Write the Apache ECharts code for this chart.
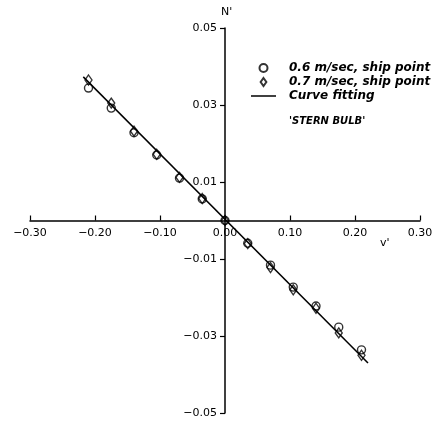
<!DOCTYPE html>
<html><head><meta charset="utf-8">
<script src="https://cdn.jsdelivr.net/npm/echarts@6/dist/echarts.min.js"></script>
<style>html,body{margin:0;padding:0;background:#fff}#c{width:432px;height:423px}</style>
</head><body><div id="c"></div>
<script>
const vValues = [-0.21,-0.175,-0.14,-0.105,-0.07,-0.035,0,0.035,0.07,0.105,0.14,0.175,0.21];
const n06 = [0.0344,0.0292,0.0228,0.0170,0.0110,0.0056,0,-0.0059,-0.0116,-0.0173,-0.0222,-0.0277,-0.0336];
const n07 = [0.0365,0.0305,0.0232,0.0172,0.0112,0.0057,0,-0.0060,-0.0122,-0.0180,-0.0228,-0.0292,-0.0350];
const fitV = [-0.218, 0.22];
const fitN = [0.0373, -0.0370];
const xTicks = [-0.3,-0.2,-0.1,0,0.1,0.2,0.3];
const yTicks = [-0.05,-0.03,-0.01,0.01,0.03,0.05];
const seriesNames = ['0.6 m/sec, ship point','0.7 m/sec, ship point','Curve fitting'];

const zip = (a,b)=>a.map((v,i)=>[v,b[i]]);
const W = 432, H = 423;
const G = {left:30,right:12,top:28,bottom:10};
const chart = echarts.init(document.getElementById('c'));
const axisFont = {fontFamily:'DejaVu Sans', fontSize:11, color:'#000'};
chart.setOption({
  animation:false,
  backgroundColor:'#fff',
  grid:Object.assign({outerBoundsMode:'none',containLabel:false}, G),
  legend:{
    orient:'vertical', left:246, top:57, itemGap:2, itemWidth:25, itemHeight:8,
    data:[
      {name:seriesNames[0], icon:'circle'},
      {name:seriesNames[1], icon:'path://M5,0L10,7L5,14L0,7Z'},
      {name:seriesNames[2], icon:'path://M0,0H100V6H0Z'}
    ],
    textStyle:{fontFamily:'DejaVu Sans', fontStyle:'italic', fontWeight:'bold', fontSize:12, color:'#000', padding:[0,0,0,8]}
  },
  graphic:[
    {type:'text', left:289, top:116, style:{text:"'STERN BULB'", fontFamily:'DejaVu Sans', fontStyle:'italic', fontWeight:'bold', fontSize:10, fill:'#000'}},
    {type:'text', left:380, top:238, style:{text:"v'", fontFamily:'DejaVu Sans', fontSize:11, fill:'#000'}}
  ],
  xAxis:{
    type:'value', min:-0.3, max:0.3, interval:0.1,
    offset:-(H-G.top-G.bottom)/2,
    axisLine:{onZero:false, lineStyle:{color:'#000', width:1.5}},
    axisTick:{inside:true, length:5, customValues:xTicks, lineStyle:{color:'#000', width:1.2}},
    axisLabel:Object.assign({customValues:xTicks, margin:7, formatter:v=>v.toFixed(2).replace('-','\u2212')}, axisFont),
    splitLine:{show:false}
  },
  yAxis:{
    type:'value', min:-0.05, max:0.05, interval:0.01,
    offset:-(W-G.left-G.right)/2,
    name:"N'", nameLocation:'end', nameGap:10, nameTextStyle:Object.assign({align:'left', padding:[0,0,0,-4]}, axisFont),
    axisLine:{onZero:false, lineStyle:{color:'#000', width:1.5}},
    axisTick:{length:5, customValues:yTicks, lineStyle:{color:'#000', width:1.2}},
    axisLabel:Object.assign({customValues:yTicks, margin:8, formatter:v=>v.toFixed(2).replace('-','\u2212')}, axisFont),
    splitLine:{show:false}
  },
  series:[
    {name:seriesNames[0], type:'scatter', data:zip(vValues,n06), symbol:'circle', symbolSize:8,
     itemStyle:{color:'rgba(255,255,255,0)', borderColor:'#000', borderWidth:1.4}, z:3},
    {name:seriesNames[1], type:'scatter', data:zip(vValues,n07), symbol:'diamond', symbolSize:[7,10],
     itemStyle:{color:'rgba(255,255,255,0)', borderColor:'#000', borderWidth:1.4}, z:3},
    {name:seriesNames[2], type:'line', data:zip(fitV,fitN), symbol:'none', showSymbol:false,
     lineStyle:{color:'#000', width:1.5}, itemStyle:{color:'#000'}, z:2}
  ]
});
</script></body></html>
